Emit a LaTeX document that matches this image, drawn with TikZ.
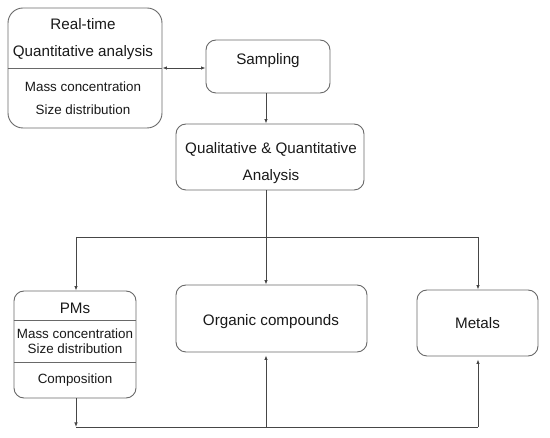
\documentclass[tikz,border=0pt]{standalone}
\usepackage{fontspec}
\setmainfont{Liberation Sans}
\usetikzlibrary{arrows.meta}
\definecolor{boxline}{RGB}{105,105,105}
\definecolor{conn}{RGB}{70,70,70}
\definecolor{txt}{RGB}{25,25,25}
\begin{document}
\begin{tikzpicture}[x=1pt,y=-1pt,
  box/.style={draw=boxline,line width=0.9pt,rounded corners=10pt,inner sep=0pt},
  divider/.style={draw=boxline,line width=0.9pt},
  big/.style={font=\fontsize{15.2}{18}\selectfont,text=txt,anchor=base,inner sep=0pt},
  small/.style={font=\fontsize{13.4}{16}\selectfont,text=txt,anchor=base,inner sep=0pt},
  conn/.style={draw=conn,line width=0.8pt},
  arr/.style={conn,-{Latex[length=4.5pt,width=3.5pt]}},
  darr/.style={conn,{Latex[length=4.5pt,width=3.5pt]}-{Latex[length=4.5pt,width=3.5pt]}}]
\useasboundingbox (0,0) rectangle (550,438);
\fill[white] (0,0) rectangle (550,438);
% boxes
\node[box,rounded corners=15pt,minimum width=154pt,minimum height=120pt] (rt) at (85,68) {};
\node[box,minimum width=124pt,minimum height=53pt] (samp) at (268,66.5) {};
\node[box,minimum width=188pt,minimum height=66pt] (qual) at (270,157) {};
\node[box,minimum width=122pt,minimum height=107pt] (pm) at (75,344.5) {};
\node[box,minimum width=191pt,minimum height=67pt] (org) at (271.5,318.5) {};
\node[box,minimum width=121pt,minimum height=66pt] (met) at (477.5,323) {};
% dividers
\draw[divider] (rt.west) -- (rt.east);
\draw[divider] (pm.west |- 0,320) -- (pm.east |- 0,320);
\draw[divider] (pm.west |- 0,362) -- (pm.east |- 0,362);
% texts
\node[big] (t1) at (83,29.3) {Real-time};
\node[big] (t2) at (83,56.7) {Quantitative analysis};
\node[small] (t3) at (83,91.7) {Mass concentration};
\node[small] (t4) at (83,114.3) {Size distribution};
\node[big] (t5) at (268,65) {Sampling};
\node[big] (t6) at (271,153.3) {Qualitative \& Quantitative};
\node[big] (t7) at (271,180.7) {Analysis};
\node[big] (t8) at (75,313.3) {PMs};
\node[small] (t9) at (75,338.3) {Mass concentration};
\node[small] (t10) at (75,354) {Size distribution};
\node[small] (t11) at (75,383.3) {Composition};
\node[big] (t12) at (271,325.7) {Organic compounds};
\node[big] (t13) at (477.5,329) {Metals};
% junction coordinates
\coordinate (jt) at (266,237);
\coordinate (jl) at (76,237);
\coordinate (jr) at (478,237);
\coordinate (bl) at (76,427);
\coordinate (bm) at (266,427);
\coordinate (br) at (478,427);
% connectors
\draw[darr] (rt.east) -- (samp.west |- rt.east);
\draw[arr] (samp.south -| jt) -- (qual.north -| jt);
\draw[conn] (qual.south -| jt) -- (jt);
\draw[conn] (jl) -- (jr);
\draw[arr] (jl) -- (pm.north -| jl);
\draw[arr] (jt) -- (org.north -| jt);
\draw[arr] (jr) -- (met.north -| jr);
\draw[arr] (pm.south -| bl) -- (bl);
\draw[conn] (bl) -- (br);
\draw[arr,shorten >=3pt] (bm) -- (org.south -| bm);
\draw[arr,shorten >=3pt] (br) -- (met.south -| br);
\end{tikzpicture}
\end{document}
